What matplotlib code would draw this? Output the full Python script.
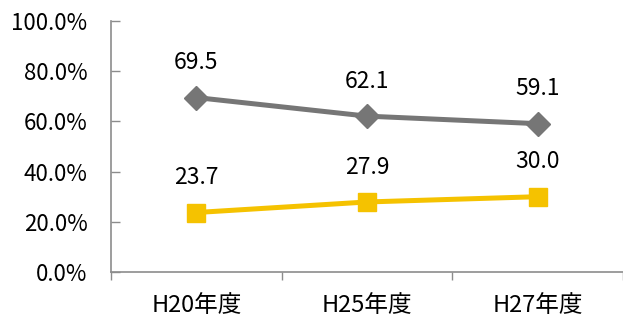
import numpy as np
import matplotlib.pyplot as plt

plt.rcParams['font.family'] = ['Noto Sans CJK JP', 'DejaVu Sans']

years = ["H20年度", "H25年度", "H27年度"]
upper = [69.5, 62.1, 59.1]
lower = [23.7, 27.9, 30.0]
yticks = [0, 20, 40, 60, 80, 100]

gray = "#767676"
yellow = "#F5C200"
axis_col = "#8C8C8C"

fig = plt.figure(figsize=(6.23, 3.22), dpi=100)
ax = fig.add_axes([111 / 623, 50 / 322, 512 / 623, 251 / 322])

x = np.arange(len(years)) + 0.5
ax.plot(x, upper, color=gray, lw=3.6, marker="D", ms=12.5, zorder=3)
ax.plot(x, lower, color=yellow, lw=3.6, marker="s", ms=13.5, zorder=3)

# value labels sit above each marker
for xi, v in zip(x, upper):
    ax.annotate(f"{v:.1f}", (xi, v), xytext=(0, 25), textcoords="offset points",
                ha="center", va="center", fontsize=16.5)
for xi, v in zip(x, lower):
    ax.annotate(f"{v:.1f}", (xi, v), xytext=(0, 25), textcoords="offset points",
                ha="center", va="center", fontsize=16.5)

ax.set_xlim(0, 3)
ax.set_ylim(0, 100)
ax.set_yticks(yticks)
ax.set_yticklabels([f"{t:.1f}%" for t in yticks], fontsize=16)
ax.tick_params(axis="y", direction="in", length=6.5, width=1, color=axis_col, pad=17)

ax.set_xticks(x)
ax.set_xticklabels(years, fontsize=17)
ax.set_xticks(np.arange(len(years) + 1), minor=True)
ax.tick_params(axis="x", which="major", length=0, pad=16)
ax.tick_params(axis="x", which="minor", direction="out", length=6, width=1, color=axis_col)

for s in ["top", "right"]:
    ax.spines[s].set_visible(False)
for s in ["left", "bottom"]:
    ax.spines[s].set_color(axis_col)
    ax.spines[s].set_linewidth(1.2)

fig.savefig("out.png", dpi=100)
